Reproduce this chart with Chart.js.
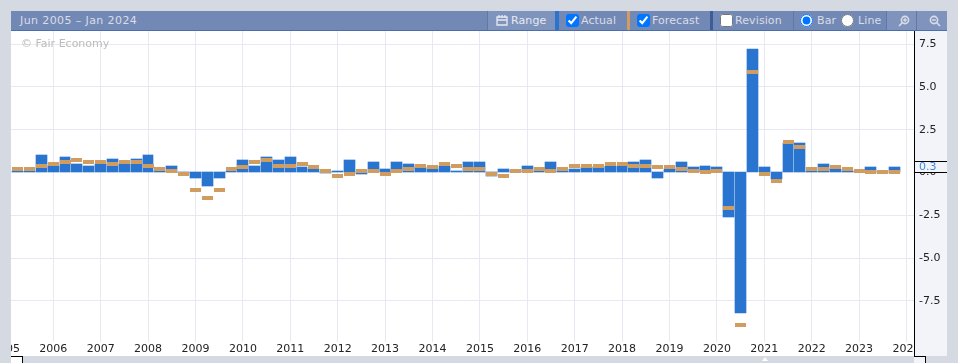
<!DOCTYPE html>
<html>
<head>
<meta charset="utf-8">
<title>Jun 2005 - Jan 2024</title>
<script src="https://cdn.jsdelivr.net/npm/chart.js@4"></script>
<style>
    html, body { margin: 0; padding: 0; }
    body { width: 958px; height: 363px; background: #d5d9e2; overflow: hidden; position: relative;
           font-family: "DejaVu Sans", sans-serif; }
    #bar { position: absolute; left: 11px; top: 11px; width: 936px; height: 19px; background: #7389b5;
           border-bottom: 1px solid #4a6fb0; color: #d9dde8; font-size: 11px; letter-spacing: .1px; }
    #bar div { position: absolute; top: 0; height: 19px; line-height: 19px; white-space: nowrap; box-sizing: border-box; }
    #bar input { position: absolute; top: 3px; margin: 0; }
    #bar span { position: absolute; top: 0; }
    #wrap { position: absolute; left: 11px; top: 31px; width: 936px; height: 325px; background: #fff; }
    #mark { position: absolute; left: 21px; top: 37px; font-size: 11px; color: #bbb; }
    .handle { position: absolute; top: 356px; width: 11px; height: 7px; border-top: 1px solid #000; border-right: 1px solid #000; }
    #notch { position: absolute; left: 762px; top: 357px; width: 0; height: 0;
             border-left: 3px solid transparent; border-right: 3px solid transparent; border-bottom: 4px solid #fff; }
</style>
</head>
<body>
<div id="bar">
    <div style="left:9px;letter-spacing:.4px">Jun 2005 – Jan 2024</div>
    <div style="left:476px;width:68px;background:#7f94bd;border-left:1px solid #5f78ab">
        <svg style="position:absolute;left:8px;top:4px" width="12" height="11" viewBox="0 0 12 11"><path d="M1 2h10v8H1zM1 5h10M3 0v3M6 0v3M9 0v3" fill="none" stroke="#e6e9f1" stroke-width="1.3"/></svg>
        <span style="left:23px;font-weight:500;color:#e6e9f1">Range</span>
    </div>
    <div style="left:544px;width:4px;background:#2a74cf"></div>
    <div style="left:548px;width:68px"><input type="checkbox" checked style="left:7px"><span style="left:22px">Actual</span></div>
    <div style="left:616px;width:3px;background:#d19c5f"></div>
    <div style="left:619px;width:80px"><input type="checkbox" checked style="left:7px"><span style="left:22px">Forecast</span></div>
    <div style="left:699px;width:3px;background:#3d5c9a"></div>
    <div style="left:702px;width:80px"><input type="checkbox" style="left:7px"><span style="left:22px">Revision</span></div>
    <div style="left:782px;width:93px;border-left:1px solid #5f78ab">
        <input type="radio" name="kind" checked style="left:6px"><span style="left:23px">Bar</span>
        <input type="radio" name="kind" style="left:47px"><span style="left:64px">Line</span>
    </div>
    <div style="left:875px;width:30px;background:#8093bd;border-left:1px solid #5f78ab">
        <svg style="position:absolute;left:11px;top:4px" width="12" height="12" viewBox="0 0 12 12"><circle cx="7" cy="5" r="3.6" fill="none" stroke="#d9dde8" stroke-width="1.6"/><path d="M4.5 7.5L1 11M5.2 5h3.6M7 3.2v3.6" stroke="#d9dde8" stroke-width="1.6"/></svg>
    </div>
    <div style="left:905px;width:31px;background:#8093bd;border-left:1px solid #5f78ab">
        <svg style="position:absolute;left:12px;top:4px" width="12" height="12" viewBox="0 0 12 12"><circle cx="5" cy="5" r="3.6" fill="none" stroke="#d9dde8" stroke-width="1.6"/><path d="M7.5 7.5L11 11M3.2 5h3.6" stroke="#d9dde8" stroke-width="1.6"/></svg>
    </div>
</div>
<div id="wrap"><canvas id="chart" width="936" height="325"></canvas></div>
<div id="mark">© Fair Economy</div>
<div class="handle" style="left:11px;background:#fff"></div>
<div class="handle" style="left:914px;background:#f3f4f9"></div>
<div id="notch"></div>
<script>
    // Quarter positions on the year axis
    const quarters = [
        2005.25, 2005.5, 2005.75,
        2006, 2006.25, 2006.5, 2006.75, 2007, 2007.25, 2007.5, 2007.75,
        2008, 2008.25, 2008.5, 2008.75, 2009, 2009.25, 2009.5, 2009.75,
        2010, 2010.25, 2010.5, 2010.75, 2011, 2011.25, 2011.5, 2011.75,
        2012, 2012.25, 2012.5, 2012.75, 2013, 2013.25, 2013.5, 2013.75,
        2014, 2014.25, 2014.5, 2014.75, 2015, 2015.25, 2015.5, 2015.75,
        2016, 2016.25, 2016.5, 2016.75, 2017, 2017.25, 2017.5, 2017.75,
        2018, 2018.25, 2018.5, 2018.75, 2019, 2019.25, 2019.5, 2019.75,
        2020, 2020.25, 2020.5, 2020.75, 2021, 2021.25, 2021.5, 2021.75,
        2022, 2022.25, 2022.5, 2022.75, 2023, 2023.25, 2023.5, 2023.75
    ];
    const actual = [
        0.1, 0.1, 1.0, 0.4, 0.9, 0.5, 0.4, 0.5, 0.8, 0.5, 0.8, 1.0, 0.1, 0.4, 0.0, -0.3, -0.8, -0.3, 0.1, 0.7,
        0.4, 0.9, 0.7, 0.9, 0.3, 0.2, 0.0, 0.1, 0.7, -0.1, 0.6, 0.2, 0.6, 0.5, 0.3, 0.2, 0.4, 0.1, 0.6, 0.6,
        -0.2, 0.2, 0.1, 0.4, 0.1, 0.6, 0.1, 0.2, 0.3, 0.3, 0.4, 0.4, 0.6, 0.7, -0.3, 0.2, 0.6, 0.3, 0.4, 0.3,
        -2.6, -8.2, 7.2, 0.3, -0.4, 1.7, 1.7, 0.1, 0.5, 0.2, 0.1, 0.1, 0.3, 0.0, 0.3
    ];
    const forecast = [
        0.2, 0.2, 0.4, 0.5, 0.6, 0.7, 0.6, 0.6, 0.5, 0.6, 0.6, 0.4, 0.2, 0.1, -0.1, -1.0, -1.5, -1.0, 0.2, 0.3,
        0.6, 0.7, 0.4, 0.4, 0.5, 0.3, 0.1, -0.2, -0.1, 0.1, 0.1, -0.1, 0.1, 0.2, 0.4, 0.3, 0.5, 0.4, 0.2, 0.2,
        -0.1, -0.2, 0.1, 0.1, 0.2, 0.1, 0.2, 0.4, 0.4, 0.4, 0.5, 0.5, 0.4, 0.4, 0.3, 0.3, 0.2, 0.1, 0.0, 0.1,
        -2.1, -8.9, 5.9, -0.1, -0.5, 1.8, 1.5, 0.2, 0.2, 0.3, 0.2, 0.1, 0.0, 0.0, 0.0
    ];
    const yearTicks = [2005, 2006, 2007, 2008, 2009, 2010, 2011, 2012, 2013, 2014, 2015,
        2016, 2017, 2018, 2019, 2020, 2021, 2022, 2023, 2024];
    const valueTicks = [-7.5, -5, -2.5, 0, 2.5, 5, 7.5];
    const currentValue = "0.3";

    // forecast marker is a flat dash, so use a small canvas as the point style
    const dash = document.createElement("canvas");
    dash.width = 11;
    dash.height = 4;
    const dashCtx = dash.getContext("2d");
    dashCtx.fillStyle = "#d19c5f";
    dashCtx.fillRect(0, 0, 11, 4);

    const STRIP = "#f3f4f9";
    const GRID = "#e6e8f2";

    // snap marks to whole pixels and keep a 1px gap, the original is drawn crisp
    const snapPlugin = {
        id: "snap",
        afterDatasetsUpdate(chart) {
            const bars = chart.getDatasetMeta(1).data;
            const lefts = bars.map(b => Math.round(b.x - 5.5));
            chart.getDatasetMeta(0).data.forEach((p, i) => {
                p.x = lefts[i] + 5.5;
                p.y = Math.round(p.y);
            });
            bars.forEach((b, i) => {
                const w = i < bars.length - 1 ? Math.min(11, lefts[i + 1] - lefts[i] - 1) : 11;
                b.width = w;
                b.x = lefts[i] + w / 2;
                b.y = Math.round(b.y);
                b.base = b.y < b.base ? Math.ceil(b.base) : Math.floor(b.base);
            });
        }
    };

    // right strip covers the part of the last year label that runs past the plot
    const stripPlugin = {
        id: "strip",
        afterDatasetsDraw(chart) {
            const c = chart.ctx, a = chart.chartArea;
            c.save();
            c.fillStyle = STRIP;
            c.fillRect(a.right, 0, chart.width - a.right, chart.height);
            c.fillStyle = "#000";
            c.fillRect(a.right, a.top, 1, chart.height - a.top);
            c.restore();
        },
        afterDraw(chart) {
            const c = chart.ctx, a = chart.chartArea;
            const y = chart.scales.y.getPixelForValue(parseFloat(currentValue));
            c.save();
            c.fillStyle = STRIP;
            c.fillRect(a.right + 1, y - 6, chart.width - a.right, 11);
            c.fillStyle = "#000";
            c.fillRect(a.right, Math.round(y - 6), chart.width - a.right, 1);
            c.fillRect(a.right, Math.round(y + 5), chart.width - a.right, 1);
            c.fillStyle = "#3f8ae0";
            c.font = '11px "DejaVu Sans"';
            c.textBaseline = "middle";
            c.fillText(currentValue, a.right + 5, y);
            c.restore();
        }
    };

    new Chart(document.getElementById("chart"), {
        data: {
            datasets: [{
                type: "line",
                label: "Forecast",
                data: quarters.map((q, i) => ({ x: q, y: forecast[i] })),
                showLine: false,
                pointStyle: dash,
                order: 1
            }, {
                type: "bar",
                label: "Actual",
                data: quarters.map((q, i) => ({ x: q, y: actual[i] })),
                backgroundColor: "#2874cf",
                barThickness: 11,
                order: 2
            }]
        },
        options: {
            responsive: false,
            animation: false,
            events: [],
            layout: { padding: 0, autoPadding: false },
            plugins: { legend: { display: false }, tooltip: { enabled: false } },
            scales: {
                x: {
                    type: "linear",
                    offset: false,
                    min: 2005.108,
                    max: 2024.158,
                    afterBuildTicks: s => { s.ticks = yearTicks.map(v => ({ value: v })); },
                    afterFit: s => { s.height = 14; s.paddingLeft = 0; s.paddingRight = 0; },
                    grid: { offset: false, color: GRID, drawTicks: false },
                    border: { display: false },
                    ticks: {
                        autoSkip: false,
                        maxRotation: 0,
                        padding: 1,
                        color: "#222",
                        font: { family: "DejaVu Sans", size: 11 },
                        callback: v => String(v)
                    }
                },
                y: {
                    position: "right",
                    min: -9.91,
                    max: 8.27,
                    afterBuildTicks: s => { s.ticks = valueTicks.map(v => ({ value: v })); },
                    afterFit: s => { s.width = 33; s.paddingTop = 0; s.paddingBottom = 0; },
                    grid: { color: c => (c.tick.value === 0 ? "transparent" : GRID), drawTicks: false },
                    border: { display: false },
                    ticks: {
                        z: 1,
                        padding: 5,
                        color: "#222",
                        font: { family: "DejaVu Sans", size: 11 },
                        callback: v => v.toFixed(1)
                    }
                }
            }
        },
        plugins: [snapPlugin, stripPlugin]
    });
</script>
</body>
</html>
